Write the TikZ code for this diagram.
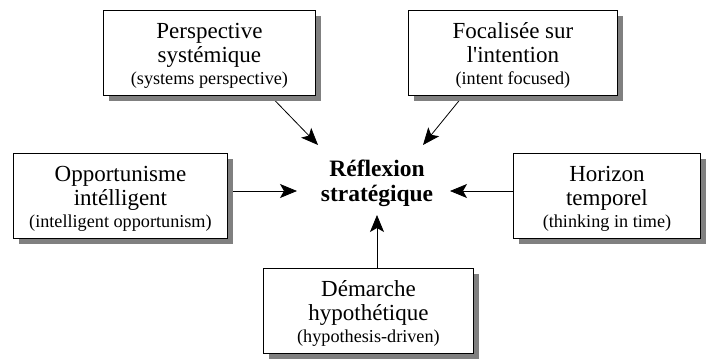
\documentclass[tikz,border=0pt]{standalone}
\usepackage{fontspec}
\setmainfont{Liberation Serif}
\usetikzlibrary{shadows,arrows.meta,backgrounds,calc}
\tikzset{
  box/.style={draw=black, line width=0.9pt, fill=white, anchor=north west,
    inner sep=0pt, minimum height=85pt,
    drop shadow={shadow xshift=6pt, shadow yshift=-6pt, fill=black!50, opacity=1}},
  boxtext/.style={align=center, anchor=north, inner sep=0pt,
    font=\fontsize{23}{24.5}\selectfont},
  arr/.style={line width=0.8pt, -{Stealth[length=17pt, width=14pt, inset=4pt]}}
}
\newcommand{\smtxt}[1]{{\fontsize{18.2}{21}\selectfont #1}}
\newcommand{\fl}{\rule{0pt}{16pt}}
\begin{document}
\begin{tikzpicture}[x=1pt,y=-1pt]
\useasboundingbox (0,0) rectangle (718,359);
% boxes
\node[box, minimum width=212pt] (b1) at (103,10) {};
\node[box, minimum width=209pt] (b2) at (408,10) {};
\node[box, minimum width=214pt] (b3) at (13,153) {};
\node[box, minimum width=187pt] (b4) at (513,153) {};
\node[box, minimum width=210pt] (b5) at (263,268) {};
% texts
\node[boxtext] (b1t) at ([yshift=-12pt]b1.north)
  {\fl Perspective\\systémique\\[-2.5pt]\smtxt{(systems perspective)}};
\node[boxtext] (b2t) at ([yshift=-12pt]b2.north)
  {\fl Focalisée sur\\l\textquotesingle intention\\[-2.5pt]\smtxt{(intent focused)}};
\node[boxtext] (b3t) at ([yshift=-12pt]b3.north)
  {\fl Opportunisme\\intélligent\\[-2.5pt]\smtxt{(intelligent opportunism)}};
\node[boxtext] (b4t) at ([yshift=-12pt]b4.north)
  {\fl Horizon\\temporel\\[-2.5pt]\smtxt{(thinking in time)}};
\node[boxtext] (b5t) at ([yshift=-12pt]b5.north)
  {\fl Démarche\\hypothétique\\[-2.5pt]\smtxt{(hypothesis-driven)}};
\node[align=center, anchor=north, inner sep=0pt,
  font=\fontsize{23.5}{25}\selectfont\bfseries] (c) at (377,160)
  {\fl Réflexion\\stratégique};
% arrow tips
\coordinate (t1) at (318,145);
\coordinate (t2) at (423,145);
\coordinate (t3) at (297,191);
\coordinate (t4) at (450,191);
\coordinate (t5) at (377,215);
\begin{scope}[on background layer]
\draw[arr] ([xshift=61pt]b1.south) -- (t1);
\draw[arr] ([xshift=-50pt]b2.south) -- (t2);
\draw[arr] (b3.east |- t3) -- (t3);
\draw[arr] (b4.west |- t4) -- (t4);
\draw[arr] (t5 |- b5.north) -- (t5);
\end{scope}
\end{tikzpicture}
\end{document}
